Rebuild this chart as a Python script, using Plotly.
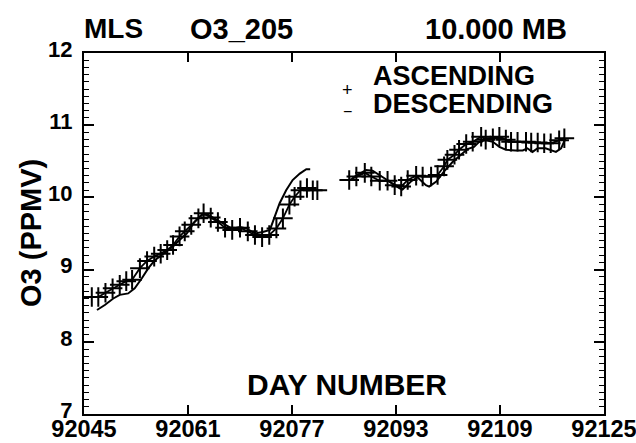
import plotly.graph_objects as go

# ---------------- data ----------------
asc_day_1 = [92046.2, 92047.2, 92048.3, 92049.4, 92050.5, 92051.5, 92052.4, 92053.6, 92054.7,
             92055.8, 92056.8, 92057.8, 92058.7, 92059.7, 92060.5, 92061.5, 92062.6, 92063.4,
             92064.5, 92065.6, 92066.7, 92067.8, 92069.0, 92070.2, 92071.3, 92072.4, 92073.5,
             92074.6, 92075.6, 92076.6, 92077.4, 92078.3, 92079.3, 92080.2, 92080.9]
asc_val_1 = [8.62, 8.62, 8.68, 8.74, 8.79, 8.84, 8.86, 9.02, 9.12,
             9.18, 9.22, 9.27, 9.34, 9.46, 9.53, 9.62, 9.71, 9.78,
             9.72, 9.66, 9.58, 9.55, 9.58, 9.53, 9.48, 9.45, 9.48,
             9.57, 9.71, 9.90, 10.01, 10.10, 10.13, 10.10, 10.10]

asc_day_2 = [92085.8, 92086.9, 92088.2, 92089.2, 92090.5, 92091.7, 92092.8, 92093.8, 92094.8,
             92096.1, 92097.1, 92098.4, 92099.4, 92100.4, 92100.9, 92102.0, 92102.7, 92103.8,
             92104.8, 92106.1, 92106.8, 92107.9, 92108.9, 92109.9, 92110.7, 92111.7, 92113.0,
             92113.8, 92114.8, 92115.8, 92116.8, 92118.1, 92118.9]
asc_val_2 = [10.24, 10.29, 10.34, 10.29, 10.23, 10.23, 10.17, 10.15, 10.24,
             10.30, 10.29, 10.29, 10.31, 10.43, 10.52, 10.59, 10.66, 10.74,
             10.77, 10.84, 10.80, 10.82, 10.84, 10.80, 10.77, 10.77, 10.77,
             10.76, 10.76, 10.75, 10.75, 10.79, 10.82]

desc_day_1 = [92047.0, 92048.2, 92049.5, 92050.5, 92051.8, 92052.8, 92053.9, 92054.9, 92055.9,
              92057.4, 92058.7, 92059.7, 92060.8, 92062.0, 92063.1, 92064.1, 92065.1, 92066.4,
              92067.7, 92069.0, 92070.0, 92071.3, 92072.5, 92073.6, 92074.3, 92075.1, 92076.1,
              92077.1, 92078.2, 92079.2, 92079.8]
desc_val_1 = [8.44, 8.51, 8.60, 8.65, 8.67, 8.74, 8.88, 9.02, 9.13,
              9.23, 9.32, 9.41, 9.50, 9.66, 9.76, 9.76, 9.71, 9.64,
              9.57, 9.59, 9.57, 9.50, 9.52, 9.55, 9.73, 9.92, 10.10,
              10.24, 10.33, 10.39, 10.39]

desc_day_2 = [92086.3, 92088.4, 92089.4, 92090.5, 92092.0, 92093.5, 92094.0, 92095.3, 92096.3,
              92097.6, 92098.1, 92099.2, 92100.4, 92101.7, 92103.0, 92104.0, 92105.0, 92105.8,
              92106.8, 92107.9, 92108.9, 92109.9, 92111.4, 92112.5, 92113.2, 92114.0, 92114.8,
              92116.0, 92117.6, 92118.4, 92119.1]
desc_val_2 = [10.27, 10.38, 10.37, 10.31, 10.22, 10.13, 10.11, 10.22, 10.28,
              10.17, 10.15, 10.22, 10.36, 10.49, 10.59, 10.67, 10.70, 10.77,
              10.79, 10.77, 10.70, 10.66, 10.65, 10.65, 10.68, 10.63, 10.68,
              10.68, 10.63, 10.68, 10.82]

x_ticks = [92045, 92061, 92077, 92093, 92109, 92125]
y_ticks = [7, 8, 9, 10, 11, 12]

title_left = "MLS"
title_mid = "O3_205"
title_right = "10.000 MB"
y_title = "O3 (PPMV)"
x_title = "DAY NUMBER"
legend_labels = ["ASCENDING", "DESCENDING"]

# ---------------- figure ----------------
FONT = "Liberation Sans, Arial, Helvetica, sans-serif"

asc_x = asc_day_1 + [None] + asc_day_2
asc_y = asc_val_1 + [None] + asc_val_2
desc_x = desc_day_1 + [None] + desc_day_2
desc_y = desc_val_1 + [None] + desc_val_2

fig = go.Figure()
fig.add_trace(go.Scatter(
    x=desc_x, y=desc_y, mode="lines", name=legend_labels[1],
    line=dict(color="black", width=2), connectgaps=False, showlegend=False))
fig.add_trace(go.Scatter(
    x=asc_x, y=asc_y, mode="lines+markers", name=legend_labels[0],
    line=dict(color="black", width=1.8), connectgaps=False, showlegend=False,
    marker=dict(symbol="cross-thin", size=14, color="black",
                line=dict(color="black", width=2))))

def bold(size):
    return dict(family=FONT, size=size, color="black", weight="bold")

annotations = [
    dict(text=title_left, x=113, y=29, font=bold(28)),
    dict(text=title_mid, x=241, y=29, font=bold(29)),
    dict(text=title_right, x=496, y=29, font=bold(29)),
    dict(text=x_title, x=347, y=384, font=bold(30)),
    dict(text=legend_labels[0], x=371, y=76, font=bold(27), xanchor="left"),
    dict(text=legend_labels[1], x=371, y=104, font=bold(27), xanchor="left"),
    dict(text="+", x=347, y=90, font=dict(family=FONT, size=18, color="black")),
    dict(text="\u2212", x=347, y=111, font=dict(family=FONT, size=16, color="black")),
]
ann_list = []
L, R, T, B = 84, 604, 53, 414
for a in annotations:
    d = dict(a)
    d["x"] = (a["x"] - L) / (R - L)
    d["y"] = (B - a["y"]) / (B - T)
    d["xref"] = "paper"
    d["yref"] = "paper"
    d["showarrow"] = False
    d.setdefault("xanchor", "center")
    d["yanchor"] = "middle"
    ann_list.append(d)

ann_list.append(dict(text=y_title, x=(31 - L) / (R - L), y=(B - 233) / (B - T),
                     xref="paper", yref="paper", showarrow=False, textangle=-90,
                     xanchor="center", yanchor="middle", font=bold(29)))

fig.update_layout(
    width=636, height=443,
    margin=dict(l=L, r=636 - R, t=T, b=443 - B, autoexpand=False),
    paper_bgcolor="white", plot_bgcolor="white",
    showlegend=False,
    annotations=ann_list,
    xaxis=dict(range=[92045, 92125], tickvals=x_ticks, ticktext=[str(v) for v in x_ticks],
               ticks="inside", ticklen=9, tickwidth=1.5, tickcolor="black",
               showline=True, linecolor="black", linewidth=2, mirror="allticks",
               showgrid=False, zeroline=False, ticklabeloverflow="allow",
               ticklabelstandoff=-7, automargin=False,
               tickfont=dict(family=FONT, size=23.5, color="black", weight="bold")),
    yaxis=dict(range=[7, 12], tickvals=y_ticks,
               ticks="inside", ticklen=10, tickwidth=1.5, tickcolor="black",
               showline=True, linecolor="black", linewidth=2, mirror="allticks",
               showgrid=False, zeroline=False, ticklabelstandoff=5, ticklabelshift=-4,
               automargin=False,
               minor=dict(dtick=0.1, ticks="inside", ticklen=5, tickwidth=1.2,
                          tickcolor="black", showgrid=False),
               tickfont=dict(family=FONT, size=22, color="black", weight="bold")),
)

fig.write_html("out.html")
